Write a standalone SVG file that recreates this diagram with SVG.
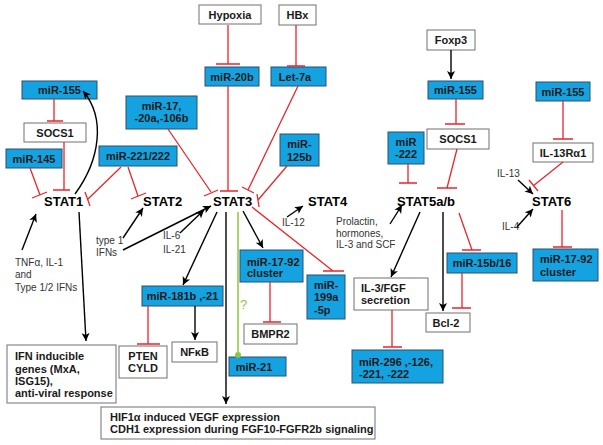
<svg xmlns="http://www.w3.org/2000/svg" width="603" height="445" viewBox="0 0 603 445">
<style>
.b{fill:#14A3E0;stroke:#2D4E6E;stroke-width:1}
.w{fill:#fff;stroke:#707070;stroke-width:1}
.t{font-family:"Liberation Sans",Arial,sans-serif;font-weight:bold;font-size:11px;fill:#1a1a1a}
.c{text-anchor:middle}
.s{font-family:"Liberation Sans",Arial,sans-serif;font-weight:bold;font-size:13px;fill:#000}
.l{font-family:"Liberation Sans",Arial,sans-serif;font-size:10px;fill:#333}
.a{fill:none;stroke:#000;stroke-width:1.4;marker-end:url(#ah)}
.r{fill:none;stroke:#E8262C;stroke-width:1.3}
.g{fill:none;stroke:#8DC63F;stroke-width:1.5}
</style>
<defs>
<marker id="ah" markerUnits="userSpaceOnUse" markerWidth="9" markerHeight="9" refX="8" refY="4.5" orient="auto">
<path d="M0,0.5 L8,4.5 L0,8.5 L2,4.5 z" fill="#000"/>
</marker>
</defs>
<rect width="603" height="445" fill="#fff"/>
<g id="STAT1"><text class="s" x="44" y="206">STAT1</text></g>
<g id="STAT2"><text class="s" x="143" y="206">STAT2</text></g>
<g id="STAT3"><text class="s" x="213" y="206">STAT3</text></g>
<g id="STAT4"><text class="s" x="308" y="206">STAT4</text></g>
<g id="STAT5"><text class="s" x="397" y="206">STAT5a/b</text></g>
<g id="STAT6"><text class="s" x="532" y="206">STAT6</text></g>
<g id="labels">
<text class="l" x="15" y="266">TNFα, IL-1</text>
<text class="l" x="15" y="278">and</text>
<text class="l" x="15" y="291">Type 1/2 IFNs</text>
<text class="l" x="96" y="244">type 1</text>
<text class="l" x="96" y="256">IFNs</text>
<text class="l" x="163" y="239">IL-6</text>
<text class="l" x="163" y="253">IL-21</text>
<text class="l" x="282" y="226">IL-12</text>
<text class="l" x="336" y="225">Prolactin,</text>
<text class="l" x="336" y="237">hormones,</text>
<text class="l" x="336" y="248">IL-3 and SCF</text>
<text class="l" x="497" y="177">IL-13</text>
<text class="l" x="502" y="230">IL-4</text>
</g>
<g id="hypoxia"><rect class="w" x="199" y="5" width="62" height="19"/><text class="t c" x="230" y="18.5">Hypoxia</text></g>
<g id="hbx"><rect class="w" x="279" y="5" width="37" height="20"/><text class="t c" x="297.5" y="19">HBx</text></g>
<g id="mir20b"><rect class="b" x="205" y="67" width="54" height="19"/><text class="t c" x="232" y="80.5">miR-20b</text></g>
<g id="let7a"><rect class="b" x="271" y="67" width="55" height="19"/><text class="t c" x="295" y="80.5">Let-7a</text></g>
<g id="mir17"><rect class="b" x="126" y="96" width="71" height="33"/><text class="t c" x="161.5" y="109.5">miR-17,</text><text class="t c" x="161.5" y="121.5">-20a,-106b</text></g>
<g id="mir125b"><rect class="b" x="280" y="134" width="39" height="32"/><text class="t c" x="299.5" y="148">miR-</text><text class="t c" x="299.5" y="161">125b</text></g>
<g id="mir155a"><rect class="b" x="22" y="81" width="75" height="18"/><text class="t c" x="59.5" y="94">miR-155</text></g>
<g id="socs1a"><rect class="w" x="24" y="123" width="62" height="19"/><text class="t c" x="55" y="136.5">SOCS1</text></g>
<g id="mir145"><rect class="b" x="6" y="149" width="56" height="19"/><text class="t c" x="34" y="162.5">miR-145</text></g>
<g id="mir221"><rect class="b" x="99" y="146" width="78" height="20"/><text class="t c" x="138" y="160">miR-221/222</text></g>
<g id="foxp3"><rect class="w" x="427" y="30" width="48" height="20"/><text class="t c" x="451" y="44">Foxp3</text></g>
<g id="mir155b"><rect class="b" x="428" y="81" width="55" height="18"/><text class="t c" x="455.5" y="94">miR-155</text></g>
<g id="socs1b"><rect class="w" x="427" y="129" width="62" height="20"/><text class="t c" x="458" y="143">SOCS1</text></g>
<g id="mir222"><rect class="b" x="388" y="132" width="36" height="32"/><text class="t c" x="406" y="146">miR</text><text class="t c" x="406" y="158">-222</text></g>
<g id="mir155c"><rect class="b" x="536" y="82" width="54" height="19"/><text class="t c" x="563" y="95.5">miR-155</text></g>
<g id="il13ra1"><rect class="w" x="533" y="143" width="60" height="19"/><text class="t c" x="563" y="156.5">IL-13Rα1</text></g>
<g id="mir1792b"><rect class="b" x="533" y="249" width="65" height="32"/><text class="t" x="540" y="263">miR-17-92</text><text class="t" x="540" y="276">cluster</text></g>
<g id="mir15b"><rect class="b" x="447" y="253" width="70" height="20"/><text class="t c" x="482" y="267">miR-15b/16</text></g>
<g id="il3fgf"><rect class="w" x="354" y="278" width="74" height="32"/><text class="t" x="361" y="292">IL-3/FGF</text><text class="t" x="361" y="304">secretion</text></g>
<g id="bcl2"><rect class="w" x="426" y="313" width="44" height="19"/><text class="t c" x="446" y="326.5">Bcl-2</text></g>
<g id="mir296"><rect class="b" x="352" y="350" width="91" height="33"/><text class="t" x="359" y="366">miR-296 ,-126,</text><text class="t" x="359" y="378">-221, -222</text></g>
<g id="mir1792a"><rect class="b" x="240" y="250" width="63" height="32"/><text class="t" x="247" y="266">miR-17-92</text><text class="t" x="247" y="277">cluster</text></g>
<g id="mir199a"><rect class="b" x="307" y="275" width="38" height="44"/><text class="t" x="314" y="289">miR-</text><text class="t" x="314" y="301">199a</text><text class="t" x="314" y="314">-5p</text></g>
<g id="bmpr2"><rect class="w" x="244" y="324" width="53" height="20"/><text class="t c" x="270.5" y="338">BMPR2</text></g>
<g id="mir21"><rect class="b" x="229" y="357" width="57" height="19"/><text class="t c" x="254" y="370.5">miR-21</text></g>
<g id="mir181b"><rect class="b" x="142" y="286" width="81" height="20"/><text class="t c" x="182.5" y="300">miR-181b ,-21</text></g>
<g id="pten"><rect class="w" x="119" y="346" width="48" height="32"/><text class="t c" x="143" y="360">PTEN</text><text class="t c" x="143" y="372">CYLD</text></g>
<g id="nfkb"><rect class="w" x="172" y="342" width="45" height="20"/><text class="t c" x="194.5" y="356">NFκB</text></g>
<g id="ifn"><rect class="w" x="7" y="345" width="109" height="58"/><text class="t" x="15" y="360">IFN inducible</text><text class="t" x="15" y="373">genes (MxA,</text><text class="t" x="15" y="385">ISG15),</text><text class="t" x="15" y="397">anti-viral response</text></g>
<g id="hif"><rect class="w" x="101" y="407" width="274" height="32"/><text class="t" x="110" y="421">HIF1α induced VEGF expression</text><text class="t" x="110" y="433">CDH1 expression during FGF10-FGFR2b signaling</text></g>
<g id="connectors">
<path class="a" d="M75,194 C100,160 106,118 83,91"/>
<path class="a" d="M79,212 L86,341"/>
<path class="a" d="M22,250 L36,214"/>
<path class="a" d="M123,238 L143,208"/>
<path class="a" d="M123,250 L211,206"/>
<path class="a" d="M180,233 L204,210"/>
<path class="a" d="M217,212 L183,285"/>
<path class="a" d="M226,212 L226,404"/>
<path class="a" d="M243,211 L263,248"/>
<path class="a" d="M287,217 L303,206"/>
<path class="a" d="M451,50 L451,79"/>
<path class="a" d="M390,224 L402,205"/>
<path class="a" d="M420,212 L391,277"/>
<path class="a" d="M443,212 L443,311"/>
<path class="a" d="M195,306 L195,340"/>
<path class="a" d="M518,180 L533,194"/>
<path class="a" d="M517,227 L533,209"/>
<path class="r" d="M54,99 L54,121 M47,121 L63,121"/>
<path class="r" d="M64,142 L64,190 M53,190 L70,190"/>
<path class="r" d="M30,168 L40,195 M32,198 L47,192"/>
<path class="r" d="M121,167 L88,199 M85,192 L90,206"/>
<path class="r" d="M128,167 L138,196 M131,199 L146,193"/>
<path class="r" d="M228,25 L228,64 M216,64 L240,64"/>
<path class="r" d="M296,25 L296,66 M287,66 L305,66"/>
<path class="r" d="M228,86 L228,191 M220,191 L238,191"/>
<path class="r" d="M168,129 L211,192 M204,196 L218,190"/>
<path class="r" d="M298,86 L248,190 M242,187 L254,193"/>
<path class="r" d="M287,166 L258,200 M257,194 L259,207"/>
<path class="r" d="M252,207 L333,271 M323,271 L344,271"/>
<path class="r" d="M270,282 L270,322 M263,322 L281,322"/>
<path class="r" d="M148,306 L148,344 M137,344 L160,344"/>
<path class="r" d="M456,99 L456,124 M445,124 L465,124"/>
<path class="r" d="M457,149 L447,188 M437,188 L457,188"/>
<path class="r" d="M408,164 L408,183 M399,183 L417,183"/>
<path class="r" d="M563,101 L563,139 M553,139 L573,139"/>
<path class="r" d="M563,162 L533,186 M529,180 L538,191"/>
<path class="r" d="M459,213 L472,250 M462,250 L481,250"/>
<path class="r" d="M462,273 L462,308 M452,308 L471,308"/>
<path class="r" d="M562,210 L562,247 M553,247 L572,247"/>
<path class="r" d="M392,310 L392,347 M383,347 L402,347"/>
<path class="g" d="M238,212 L238,352"/>
<circle cx="238" cy="355" r="3" fill="#8DC63F"/>
<text x="240" y="309" font-family="Liberation Sans,Arial,sans-serif" font-size="13" fill="#8DC63F">?</text>
</g>
</svg>
